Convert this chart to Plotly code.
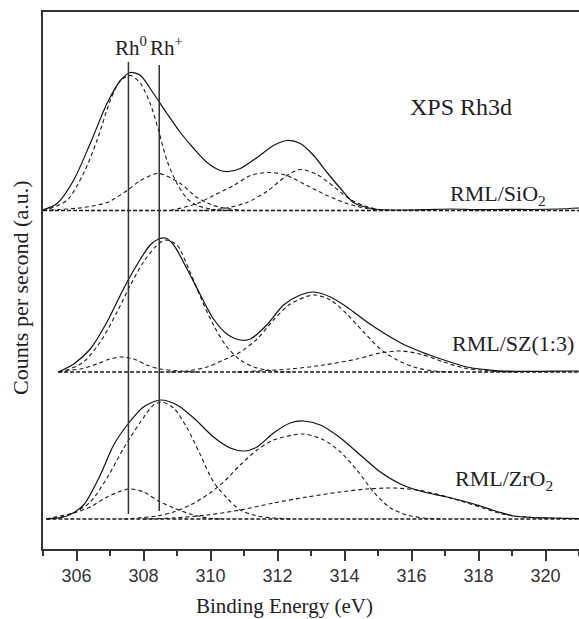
import plotly.graph_objects as go

# Rh 3d XPS spectra: envelope (solid) and fitted components (dashed), as
# (binding energy [eV], intensity above the spectrum's own baseline [a.u.]).

# ---- RML/SiO2 ----
sio2_envelope = [(305.0, 0.5), (305.42, 7), (305.91, 30), (306.41, 67), (306.91, 107),
                 (307.31, 130), (307.61, 138), (307.91, 135), (308.30, 117), (308.70, 97),
                 (309.10, 78), (309.50, 62), (309.90, 48), (310.29, 40), (310.54, 39),
                 (310.89, 42), (311.39, 53), (311.88, 65), (312.28, 70), (312.68, 67),
                 (313.08, 55), (313.48, 38), (313.88, 22), (314.27, 8), (314.67, 3),
                 (315.02, 1), (315.6, 0.5), (316.4, 0.8), (317.2, 1.5), (318.0, 0.8),
                 (318.8, 1.2), (319.6, 1.0), (320.4, 1.5), (321.0, 2.5)]
sio2_rh0_52 = [(305.0, 0), (305.12, 1), (305.71, 10), (306.21, 37), (306.61, 70),
               (307.01, 110), (307.31, 130), (307.61, 135), (307.91, 127), (308.2, 107),
               (308.45, 80), (308.7, 50), (309.0, 27), (309.3, 12), (309.6, 5),
               (310.1, 1), (310.6, 0)]
sio2_rhp_52 = [(305.0, 0), (305.5, 1), (306.21, 3), (306.91, 8), (307.51, 20),
               (307.91, 30), (308.45, 37), (309.1, 27), (309.6, 13), (310.09, 5),
               (310.49, 2), (311.0, 0)]
sio2_rh0_32 = [(308.8, 0), (309.6, 7), (310.09, 15), (310.69, 25), (311.19, 35),
               (311.78, 38), (312.28, 35), (312.88, 25), (313.48, 15), (314.07, 7),
               (314.67, 2), (315.2, 0)]
sio2_rhp_32 = [(309.8, 0), (310.39, 2), (311.09, 8), (311.68, 19), (312.28, 35),
               (312.68, 41), (313.18, 36), (313.68, 24), (314.17, 11), (314.67, 4),
               (315.02, 1), (315.5, 0)]

# ---- RML/SZ(1:3) ----
sz_envelope = [(305.47, 0), (305.52, 1), (305.92, 8), (306.41, 23), (306.91, 50),
               (307.31, 77), (307.56, 93), (307.91, 113), (308.2, 127), (308.45, 133),
               (308.65, 134), (308.9, 127), (309.3, 103), (309.7, 77), (310.09, 53),
               (310.49, 38), (310.89, 32), (311.19, 33), (311.68, 47), (312.18, 67),
               (312.68, 77), (313.08, 80), (313.58, 75), (314.07, 65), (314.67, 50),
               (315.27, 37), (315.86, 26), (316.46, 18), (317.06, 11), (317.66, 5),
               (318.05, 3), (318.6, 1.2), (319.4, 0.6), (320.2, 0.8), (321.0, 1)]
sz_rh0_52 = [(305.47, 0), (305.52, 1), (306.11, 3), (306.61, 8), (307.0, 13),
             (307.31, 15), (307.71, 13), (308.1, 7), (308.5, 3), (309.1, 1), (309.6, 0)]
sz_rhp_52 = [(305.47, 0), (305.72, 2), (306.21, 10), (306.71, 30), (307.21, 60),
             (307.61, 87), (308.0, 110), (308.35, 125), (308.65, 132), (309.0, 127),
             (309.35, 103), (309.7, 75), (310.09, 47), (310.49, 25), (310.89, 12),
             (311.29, 5), (311.88, 1), (312.4, 0)]
sz_rh0_32 = [(308.8, 0), (309.3, 1), (309.9, 5), (310.39, 12), (310.89, 20),
             (311.39, 33), (311.88, 52), (312.38, 68), (313.08, 77), (313.58, 72),
             (314.07, 58), (314.57, 40), (315.07, 23), (315.57, 12), (316.07, 5),
             (316.66, 1), (317.2, 0)]
sz_rhp_32 = [(310.8, 0), (311.39, 1), (312.38, 3), (313.38, 7), (314.37, 13),
             (315.07, 19), (315.7, 21), (316.36, 17), (316.96, 10), (317.56, 4),
             (318.05, 2), (318.6, 0.5), (319.2, 0)]

# ---- RML/ZrO2 ----
zro2_envelope = [(305.1, 0), (305.71, 3), (306.21, 14), (306.71, 44), (307.11, 74),
                 (307.56, 96), (308.0, 112), (308.5, 119), (309.0, 114), (309.5, 101),
                 (310.09, 82), (310.59, 71), (310.99, 68), (311.39, 72), (311.88, 86),
                 (312.38, 96), (312.78, 98), (313.28, 94), (313.88, 81), (314.47, 64),
                 (315.07, 47), (315.67, 35), (316.36, 27), (317.06, 22), (317.76, 16),
                 (318.05, 13), (318.6, 7), (319.05, 3), (319.6, 1.5), (320.2, 1),
                 (321.0, 0.5)]
zro2_rh0_52 = [(305.1, 0), (305.22, 1), (305.91, 6), (306.41, 12), (306.91, 22),
               (307.56, 30), (308.0, 27), (308.45, 18), (308.9, 11), (309.4, 5),
               (309.9, 1), (310.4, 0)]
zro2_rhp_52 = [(305.1, 0), (305.42, 1), (305.91, 6), (306.41, 17), (306.91, 41),
               (307.41, 71), (307.91, 97), (308.3, 114), (308.55, 117), (308.9, 111),
               (309.3, 91), (309.7, 64), (310.09, 37), (310.49, 21), (310.89, 9),
               (311.39, 3), (311.88, 1), (312.4, 0)]
zro2_rh0_32 = [(307.4, 0), (308.4, 3), (308.9, 7), (309.4, 14), (309.9, 24),
               (310.39, 37), (310.89, 54), (311.39, 69), (311.88, 79), (312.78, 85),
               (313.38, 79), (313.88, 67), (314.37, 49), (314.87, 27), (315.37, 11),
               (315.87, 4), (316.36, 1), (316.9, 0)]
zro2_rhp_32 = [(308.0, 0), (308.9, 1), (309.9, 4), (310.89, 9), (311.88, 16),
               (312.88, 22), (313.88, 27), (314.67, 30), (315.47, 31), (316.17, 29),
               (316.86, 24), (317.46, 18), (318.05, 12), (318.6, 6), (319.05, 3),
               (319.6, 1.5), (320.2, 0.8), (321.0, 0.3)]

# Vertical stacking offsets and where each baseline starts
sample_names = ["RML/SiO<sub>2</sub>", "RML/SZ(1:3)", "RML/ZrO<sub>2</sub>"]
sample_offsets = [338.5, 177, 30]
baseline_start = [305.0, 305.45, 305.1]
energy_max = 321.0

# Reference binding energies for metallic and cationic rhodium
ref_labels = ["Rh<sup>0</sup>", "Rh<sup>+</sup>"]
ref_energies = [307.55, 308.47]

spectra = [
    (sio2_envelope, [sio2_rh0_52, sio2_rhp_52, sio2_rh0_32, sio2_rhp_32]),
    (sz_envelope, [sz_rh0_52, sz_rhp_52, sz_rh0_32, sz_rhp_32]),
    (zro2_envelope, [zro2_rh0_52, zro2_rhp_52, zro2_rh0_32, zro2_rhp_32]),
]

SOLID = "#111111"
DASH = "#1a1a1a"
AXIS = "#333333"
SERIF = "Liberation Serif, Times New Roman, serif"
SANS = "Liberation Sans, Arial, sans-serif"

fig = go.Figure()


def add_curve(points, offset, dash, width, color):
    fig.add_trace(go.Scatter(
        x=[p[0] for p in points],
        y=[p[1] + offset for p in points],
        mode="lines",
        line=dict(color=color, width=width, dash=dash, shape="spline", smoothing=0.8),
        hoverinfo="skip",
    ))


for (envelope, components), offset, x0 in zip(spectra, sample_offsets, baseline_start):
    # flat background
    fig.add_trace(go.Scatter(
        x=[x0, energy_max], y=[offset, offset], mode="lines",
        line=dict(color=DASH, width=1.5, dash="4px,2px"), hoverinfo="skip",
    ))
    for comp in components:
        add_curve(comp, offset, "4px,3px", 1.1, DASH)
    add_curve(envelope, offset, "solid", 1.2, SOLID)

# Reference markers for Rh0 / Rh+
ref_tops = [487, 484]
ref_bottoms = [35, 38]
for e, top, bot in zip(ref_energies, ref_tops, ref_bottoms):
    fig.add_trace(go.Scatter(
        x=[e, e], y=[bot, top], mode="lines",
        line=dict(color=AXIS, width=1.5), hoverinfo="skip",
    ))

annotations = []
# Rh0 / Rh+ labels above the marker lines
for text, xpos in zip(ref_labels, [307.64, 308.68]):
    annotations.append(dict(x=xpos, y=503, xref="x", yref="y", text=text,
                            showarrow=False, xanchor="center", yanchor="middle",
                            font=dict(family=SERIF, size=21, color="#222")))
annotations.append(dict(x=317.49, y=442, xref="x", yref="y", text="XPS Rh3d",
                        showarrow=False, xanchor="center", yanchor="middle",
                        font=dict(family=SERIF, size=24, color="#222")))
for name, xpos, ypos in zip(sample_names, [317.08, 317.14, 317.24], [354, 206, 69]):
    annotations.append(dict(x=xpos, y=ypos, xref="x", yref="y", text=name,
                            showarrow=False, xanchor="left", yanchor="middle",
                            font=dict(family=SERIF, size=22, color="#222")))
annotations.append(dict(x=0.4505, y=-0.106, xref="paper", yref="paper",
                        text="Binding Energy (eV)", showarrow=False,
                        xanchor="center", yanchor="middle",
                        font=dict(family=SERIF, size=21, color="#222")))
annotations.append(dict(x=-0.043, y=0.486, xref="paper", yref="paper",
                        text="Counts per second (a.u.)", showarrow=False,
                        textangle=-90, xanchor="center", yanchor="middle",
                        font=dict(family=SERIF, size=22, color="#222")))

fig.update_layout(
    width=579, height=619,
    margin=dict(l=43, r=0, t=12, b=70),
    paper_bgcolor="white", plot_bgcolor="white",
    showlegend=False,
    annotations=annotations,
    xaxis=dict(
        range=[305, 321], showgrid=False, zeroline=False,
        showline=True, linecolor=AXIS, linewidth=1.5, mirror=True,
        ticks="outside", tick0=306, dtick=2, ticklen=10, tickwidth=1.5, tickcolor=AXIS,
        minor=dict(ticks="outside", tick0=305, dtick=1, ticklen=5, tickwidth=1.5,
                   tickcolor=AXIS, showgrid=False),
        tickfont=dict(family=SANS, size=18, color="#333"),
    ),
    yaxis=dict(
        range=[0, 537], showgrid=False, zeroline=False,
        showline=True, linecolor=AXIS, linewidth=1.5,
        ticks="", showticklabels=False,
    ),
)

fig.write_html("out.html")
